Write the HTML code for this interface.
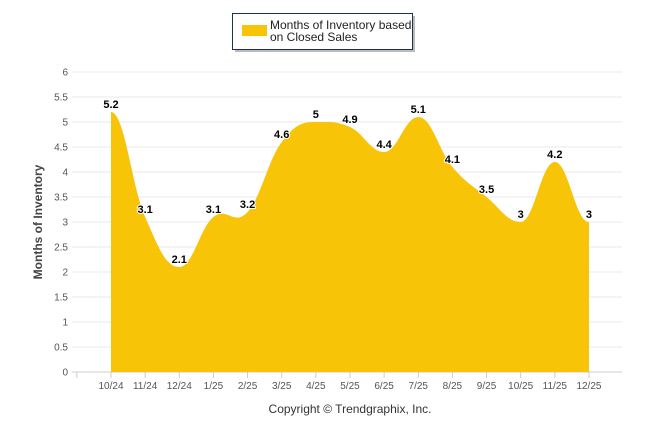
<!DOCTYPE html>
<html><head><meta charset="utf-8"><style>
body{margin:0;background:#fff;width:646px;height:434px;overflow:hidden;font-family:"Liberation Sans",sans-serif}
</style></head><body>
<svg id="c" width="646" height="434" xmlns="http://www.w3.org/2000/svg">
<g>
<rect x="235" y="16" width="180" height="36" fill="#bbb"/>
<rect x="232.5" y="13.5" width="180" height="36" fill="#fff" stroke="#1f2f50" stroke-width="1"/>
<rect x="242" y="25" width="25" height="11" fill="#f7c408"/>
<text x="270" y="29" font-size="12" fill="#222">Months of Inventory based</text>
<text x="270" y="41" font-size="12" fill="#222">on Closed Sales</text>
</g>
<text transform="translate(42,222) rotate(-90)" text-anchor="middle" font-size="12" font-weight="bold" fill="#444">Months of Inventory</text>
<text x="350" y="413" text-anchor="middle" font-size="12" fill="#333">Copyright © Trendgraphix, Inc.</text>
<g id="grid"></g><g id="plot"></g><g id="labels"></g>
</svg>
<script>
const categories=["10/24","11/24","12/24","1/25","2/25","3/25","4/25","5/25","6/25","7/25","8/25","9/25","10/25","11/25","12/25"];
const values=[5.2,3.1,2.1,3.1,3.2,4.6,5,4.9,4.4,5.1,4.1,3.5,3,4.2,3];
const yTicks=[0,0.5,1,1.5,2,2.5,3,3.5,4,4.5,5,5.5,6];
const NS="http://www.w3.org/2000/svg";
const x0=111,dx=34.14,yb=372,ppu=50;
const X=i=>x0+i*dx, Y=v=>yb-v*ppu;
function mk(t,a,p){const e=document.createElementNS(NS,t);for(const k in a)e.setAttribute(k,a[k]);p.appendChild(e);return e;}
const g=document.getElementById('grid');
yTicks.forEach(v=>{
 const l=mk('line',{x1:72,x2:622,y1:Y(v),y2:Y(v),stroke:v===0?'#ccc':'#e8e8e8','stroke-width':1},g);
 
 
 const t=mk('text',{x:68,y:Y(v)+3.5,'text-anchor':'end','font-size':10,fill:'#555'},g);
 t.textContent=v;
 
 
});
for(let i=-1;i<categories.length;i++){mk('line',{x1:X(i),x2:X(i),y1:yb,y2:yb+6,stroke:'#ccc'},g);}
categories.forEach((c,i)=>{
 const t=mk('text',{x:X(i),y:yb+17,'text-anchor':'middle','font-size':10,fill:'#555'},g);
 t.textContent=c;
 
 
});
const pts=values.map((v,i)=>[X(i),Y(v)]);
let d=`M${pts[0][0]},${yb} L${pts[0][0]},${pts[0][1]}`;
const sm=1.5;
for(let i=0;i<pts.length-1;i++){
 const p0=pts[i],p1=pts[i+1];
 const pa=pts[i-1]||p0,pb=pts[i+2]||p1;
 let c1y=p0[1],c2y=p1[1];
 if(i>0){const s=(p1[1]-pa[1])/(p1[0]-pa[0]);c1y=p0[1]+s*(p1[0]-p0[0])/(sm+1);
  if((p0[1]-pa[1])*(p1[1]-p0[1])<=0)c1y=p0[1];}
 if(i<pts.length-2){const s=(pb[1]-p0[1])/(pb[0]-p0[0]);c2y=p1[1]-s*(p1[0]-p0[0])/(sm+1);
  if((p1[1]-p0[1])*(pb[1]-p1[1])<=0)c2y=p1[1];}
 const w=(p1[0]-p0[0])/(sm+1);
 d+=` C${p0[0]+w},${c1y} ${p1[0]-w},${c2y} ${p1[0]},${p1[1]}`;
}
d+=` L${pts[pts.length-1][0]},${yb} Z`;
const a=mk('path',{d:d,fill:'#f7c408'},document.getElementById('plot'));


const L=document.getElementById('labels');
values.forEach((v,i)=>{
 const t=mk('text',{x:X(i),y:Y(v)-4,'text-anchor':'middle','font-size':11,'font-weight':'bold',fill:'#000',stroke:'#fff','stroke-width':2,'paint-order':'stroke'},L);
 t.textContent=v;
 
 
});
</script>
</body></html>
